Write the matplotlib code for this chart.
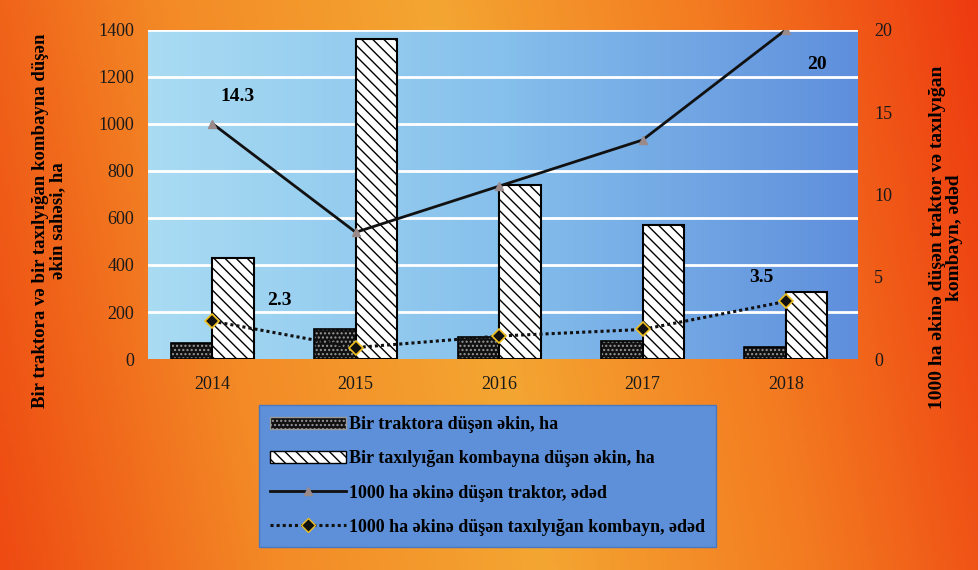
import numpy as np
import matplotlib
matplotlib.use("Agg")
import matplotlib.pyplot as plt
from matplotlib.colors import LinearSegmentedColormap
from matplotlib.patches import Patch
from matplotlib.lines import Line2D

years = ["2014", "2015", "2016", "2017", "2018"]
tractor_area = [70, 130, 95, 75, 50]          # Bir traktora düşən əkin, ha
combine_area = [430, 1360, 740, 570, 285]     # Bir taxılyığan kombayna düşən əkin, ha
tractor_per1000 = [14.3, 7.7, 10.5, 13.3, 20]  # 1000 ha əkinə düşən traktor
combine_per1000 = [2.3, 0.7, 1.4, 1.8, 3.5]    # 1000 ha əkinə düşən kombayn
shown_labels = {(0, "t"): "14.3", (4, "t"): "20", (0, "c"): "2.3", (4, "c"): "3.5"}

plt.rcParams['font.family'] = ['Liberation Serif', 'DejaVu Serif']

fig = plt.figure(figsize=(9.79, 5.70), dpi=100)

# orange page background
bg = fig.add_axes([0, 0, 1, 1], zorder=-10)
bg_cmap = LinearSegmentedColormap.from_list("bg", ["#ee4a12", "#f38a26", "#f4a632", "#f37a20", "#ee3a10"])
xx = np.linspace(0, 1, 300)
yy = np.linspace(0, 1, 100)[:, None]
grad = xx[None, :] * 0.9 + (1 - yy) * 0.1
bg.imshow(grad, cmap=bg_cmap, aspect="auto", extent=[0, 1, 0, 1])
bg.axis("off")

ax = fig.add_axes([0.151, 0.37, 0.725, 0.578])
ax2 = ax.twinx()

# blue plot area
area_cmap = LinearSegmentedColormap.from_list("area", ["#a9dcf3", "#86c0ec", "#5f8fdc"])
ax.imshow(np.linspace(0, 1, 200)[None, :], cmap=area_cmap, aspect="auto",
          extent=[0, 1, 0, 1], transform=ax.transAxes, zorder=0)

x = np.arange(len(years))
w = 0.29
ax.set_xlim(-0.45, 4.5)
ax.set_ylim(0, 1400)
ax.set_yticks(range(0, 1401, 200))
for v in range(200, 1401, 200):
    ax.axhline(v, color="white", lw=2, zorder=1)

ax.bar(x - w / 2, tractor_area, w, color="#111111", edgecolor="#9a9a9a", hatch="....", lw=0, zorder=2)
ax.bar(x - w / 2, tractor_area, w, fill=False, edgecolor="black", lw=1.2, zorder=3)
ax.bar(x + w / 2, combine_area, w, color="white", edgecolor="black", hatch="\\\\\\", lw=0, zorder=2)
ax.bar(x + w / 2, combine_area, w, fill=False, edgecolor="black", lw=1.5, zorder=3)

ax2.set_ylim(0, 20)
ax2.set_yticks(range(0, 21, 5))
ax2.plot(x, tractor_per1000, color="#111111", lw=2, marker="^", ms=6,
         mfc="#9a8a8a", mec="#9a8a8a", zorder=5)
ax2.plot(x, combine_per1000, color="#111111", lw=2.2, ls=(0, (1, 1)), marker="D", ms=7,
         mfc="#111111", mec="#f0c020", mew=1.2, zorder=5)

lab = dict(textcoords="offset points", ha="center", fontsize=14, fontweight="bold")
ax2.annotate(shown_labels[(0, "t")], (x[0], tractor_per1000[0]), xytext=(18, 16), **lab)
ax2.annotate(shown_labels[(4, "t")], (x[4], tractor_per1000[4]), xytext=(22, -28), **lab)
ax2.annotate(shown_labels[(0, "c")], (x[0], combine_per1000[0]), xytext=(48, 12), **lab)
ax2.annotate(shown_labels[(4, "c")], (x[4], combine_per1000[4]), xytext=(-18, 14), **lab)

ax.set_xticks(x)
ax.set_xticklabels(years)
for a in (ax, ax2):
    for s in a.spines.values():
        s.set_visible(False)
    a.tick_params(length=0, labelsize=13, colors="#1a1a1a")
ax.tick_params(axis="x", pad=12)
ax.tick_params(axis="y", pad=10)
ax2.tick_params(axis="y", pad=12)
ax.set_ylabel("Bir traktora və bir taxılyığan kombayna düşən\nəkin sahəsi, ha",
              fontsize=13.5, fontweight="bold", linespacing=1.0)
ax.yaxis.set_label_coords(-0.115, 0.42)
ax2.set_ylabel("1000 ha əkinə düşən traktor və taxılyığan\nkombayn, ədəd",
               fontsize=14, fontweight="bold", rotation=90, linespacing=1.0)
ax2.yaxis.set_label_coords(1.1, 0.37)

handles = [
    Patch(facecolor="#111111", edgecolor="#9a9a9a", hatch="...."),
    Patch(facecolor="white", edgecolor="black", hatch="\\\\\\"),
    Line2D([], [], color="#111111", lw=2, marker="^", ms=6, mfc="#9a8a8a", mec="#9a8a8a"),
    Line2D([], [], color="#111111", lw=2.2, ls=(0, (1, 1)), marker="D", ms=7,
           mfc="#111111", mec="#f0c020"),
]
labels = ["Bir traktora düşən əkin, ha",
          "Bir taxılyığan kombayna düşən əkin, ha",
          "1000 ha əkinə düşən traktor, ədəd",
          "1000 ha əkinə düşən taxılyığan kombayn, ədəd"]
leg = fig.legend(handles, labels, loc="center", bbox_to_anchor=(0.498, 0.165),
                 frameon=True, fancybox=False, handlelength=4.2,
                 handletextpad=0.2, borderpad=0.6, labelspacing=0.95,
                 prop={"size": 13, "weight": "bold"})
leg.get_frame().set_facecolor("#5d90d8")
leg.get_frame().set_edgecolor("#4a78c0")
leg.get_frame().set_alpha(1)

fig.savefig("out.png", dpi=100)
